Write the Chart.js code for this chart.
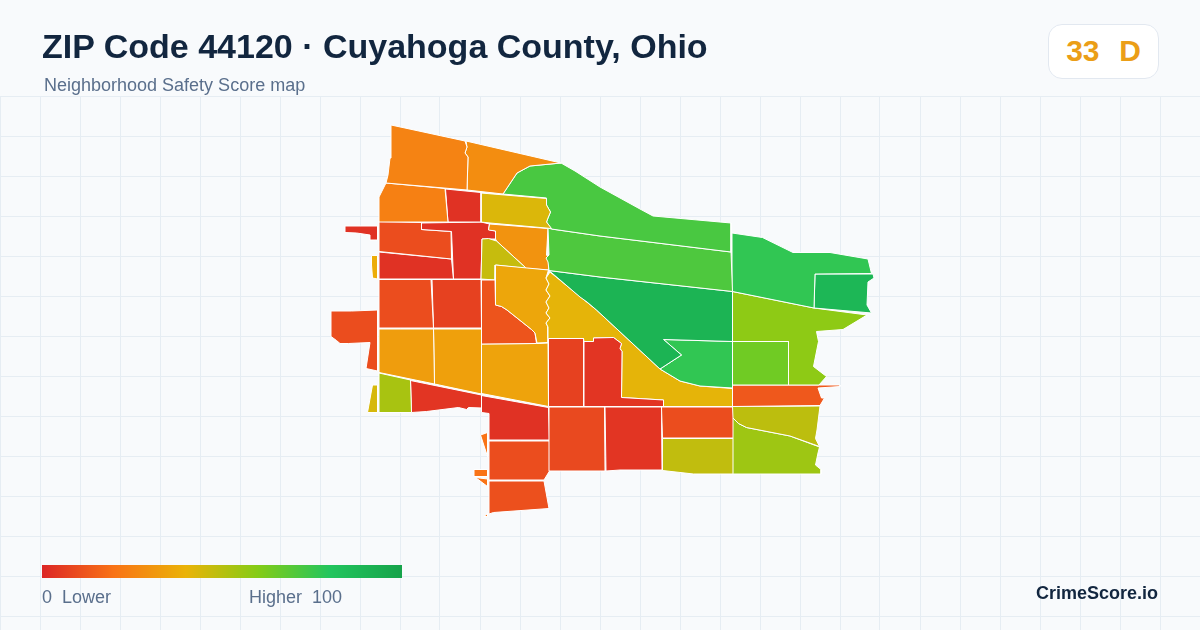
<!DOCTYPE html>
<html>
<head>
<meta charset="utf-8">
<title>ZIP Code 44120 Safety Score map</title>
<script src="https://cdn.jsdelivr.net/npm/chart.js@4/dist/chart.umd.js"></script>
<style>
  html, body { margin: 0; padding: 0; background: #f8fafc; }
  body { width: 1200px; height: 630px; position: relative; overflow: hidden; font-family: "Liberation Sans", Arial, sans-serif; }
  canvas { position: absolute; left: 0; top: 0; }
  .txt { position: absolute; white-space: pre; }
  #title { left: 42px; top: 26px; font-size: 34px; line-height: 40px; font-weight: 700; color: #12263f; }
  #subtitle { left: 44px; top: 75px; font-size: 18px; line-height: 20px; color: #5a6f8c; }
  #badge { position: absolute; left: 1048px; top: 24px; width: 109px; height: 53px; background: #fff; border: 1px solid #e2e8f0; border-radius: 14px; text-align: center; font-size: 30px; line-height: 51px; font-weight: 700; color: #eb9e17; white-space: pre; word-spacing: 1.5px; }
  #ramp { position: absolute; left: 42px; top: 565px; width: 360px; height: 13px; }
  #lower { left: 42px; top: 587px; font-size: 18px; line-height: 20px; color: #5a6f8c; }
  #higher { left: 249px; top: 587px; font-size: 18px; line-height: 20px; color: #5a6f8c; }
  #brand { right: 42px; top: 583px; font-size: 18px; line-height: 20px; font-weight: 700; color: #12263f; }
</style>
</head>
<body>
<canvas id="mapChart" width="1200" height="630"></canvas>
<div class="txt" id="title"></div>
<div class="txt" id="subtitle"></div>
<div id="badge"></div>
<div id="ramp"></div>
<div class="txt" id="lower"></div>
<div class="txt" id="higher"></div>
<div class="txt" id="brand"></div>

<script>
// TEXT
const titleText = 'ZIP Code 44120 · Cuyahoga County, Ohio';
const subtitleText = 'Neighborhood Safety Score map';
const overallScore = 33;
const overallGrade = 'D';
const lowerLabel = '0  Lower';
const higherLabel = 'Higher  100';
const brandText = 'CrimeScore.io';

// COLOUR RAMP, score 0 to 100
const rampStops = [0, 20, 40, 60, 80, 100];
const rampColors = ['#dc2626', '#f97316', '#eab308', '#84cc16', '#22c55e', '#16a34a'];

// TRACTS, safety score
const tractScores = [
  25, 28, 24, 3, 43,
  72, 71, 90, 77, 64,
  77, 88, 58, 13, 49,
  55, 48, 10, 4, 9,
  7, 4, 41, 36, 12,
  47, 30, 3, 10, 3,
  3, 38, 10, 7, 10,
  33, 34, 35, 53, 44,
  4, 3, 10, 11, 20,
  20, 20, 20
];

// tract outlines as x, y pairs in map units
const tractOutlines = [
  [391,125, 405,128, 465,141, 467,147, 465,153, 468,157, 467,190, 386,183, 388,175, 390,158],
  [466,141, 561,163, 530,166, 517,173, 503,194, 467,190, 468,157, 465,153, 467,147],
  [386,183, 445,188.5, 448,222, 379,222, 379,197],
  [445.5,189, 481,192.5, 481,222, 448,222],
  [481,193, 546.5,198.5, 546.5,205, 550.5,212, 548,218, 546.5,222, 551.5,228.5, 490,223, 481,222],
  [561,163, 575,171, 600,187, 640,209, 653,216, 731,223, 731,252, 600,236, 551.5,229, 546.5,222, 548,218, 550.5,212, 546.5,205, 546.5,198, 503,194, 517,173, 530,166],
  [551.5,229, 600,236, 731,252, 732.5,291.5, 600,277, 549,270.5, 548,262, 546,258, 549,255, 548,228],
  [549,270.5, 600,277, 732.5,291.5, 732.5,341.5, 663.5,339.5, 681.5,355, 660,369, 596.5,310, 587,302, 580,297],
  [663.5,339.5, 732.5,341.5, 732.5,388, 700,386, 680,381, 660,369, 681.5,355],
  [732.5,341.5, 788.5,341.5, 788.5,385, 732.5,385],
  [732,233, 762.5,237.5, 793,252.5, 810,252.5, 830,252.5, 868,259, 871.5,273.5, 815,274, 814,308, 732.5,291.5],
  [815,274, 873,274, 874,278, 868,282, 867,305, 871.5,313, 814,308],
  [732.5,291.5, 814,308, 867,315, 843,329.5, 816.5,331.5, 818.5,341.5, 813.5,366.5, 826.5,376.5, 819,385, 788.5,385, 788.5,341.5, 732.5,341.5],
  [732.5,385, 840,385, 840,386.5, 818,388, 821.5,398, 824.5,398, 820,405.5, 732.5,406.5],
  [732.5,406.5, 820,406, 817,430, 815.5,438.5, 819.5,446.5, 790,436, 746.5,427.5, 738.5,423.5, 733,418],
  [733,418, 738.5,423.5, 746.5,427.5, 790,436, 819.5,447, 818,453, 815.5,465, 821,469.5, 821,474, 733.5,474],
  [662.5,438.5, 733.5,438.5, 733.5,474, 693.5,474, 662.5,470.5],
  [661.5,407, 733.5,407, 733.5,438, 662.5,438],
  [605,407, 661.5,407, 662,470, 620,470, 606,471],
  [549,407, 604.5,407, 605,471, 549,471],
  [548.5,338.5, 583.5,338.5, 583.5,406.5, 548.5,406.5],
  [584,341.5, 593.5,341.5, 593.5,338, 613.5,337.5, 621.5,343.5, 620,348.5, 622,351.5, 621.5,397.5, 663.5,400, 663.5,406.5, 584,406.5],
  [550,272, 596.5,310, 660,369, 680,381, 700,386, 732.5,388.5, 732.5,406.5, 663.5,406.5, 663.5,400, 621.5,397.5, 622,351.5, 620,348.5, 621.5,343.5, 613.5,337.5, 593.5,338, 593.5,341.5, 584,341.5, 583.5,338.5, 548,338.5, 548,327, 546,323, 550,318, 546,313, 549,308, 546,302, 550,296, 546,290, 549,284, 546,278],
  [495.5,265, 548.5,270, 546,278, 549,284, 546,290, 550,296, 546,302, 549,308, 546,313, 550,318, 546,323, 548,327, 548,342.5, 537,343, 535,333, 531.5,329.5, 507,310, 501.5,306.5, 495.5,305],
  [481.5,280, 495,280, 495.5,305, 501.5,306.5, 507,310, 531.5,329.5, 535,333, 536.5,343.5, 481.5,344],
  [482,239, 488.5,238.5, 496.5,241, 526.5,268.5, 495.5,265, 495,280, 481,279],
  [489.5,224, 548,228.5, 546.5,255, 549,258, 548.5,270, 526.5,268.5, 496.5,241, 495.5,239, 495.5,231, 488.5,230],
  [421.5,223, 481,222, 489.5,224, 488.5,229.5, 495.5,231, 495.5,239, 482,239, 481,279, 453.5,279, 451.5,231.5, 421.5,229.5],
  [379,221.5, 421.5,222.5, 421.5,229.5, 451,231.5, 451.5,259, 379,251.5],
  [379,252, 451.5,259, 453.5,279, 379,279],
  [345,226, 377.5,226, 377.5,240, 370,240, 370,235, 356.5,233, 345,232.5],
  [371.5,255.5, 377.5,255.5, 377.5,279, 372.5,278, 371.5,265],
  [379,279.5, 431,279.5, 433.5,328, 379,328],
  [432,279.5, 481,279.5, 481.5,328, 433.5,328],
  [331,311, 351.5,311, 377.5,310, 377.5,371, 366,368.5, 370,342.5, 348.5,343.5, 340,343.5, 336.5,340.5, 331,336.5],
  [379,329, 433.5,329, 434.5,384, 379,372.5],
  [433.5,329, 481.5,329, 481.5,394, 434.5,384],
  [481.5,344, 536.5,343.5, 548,343, 548.5,406.5, 481.5,393.5],
  [379,373, 410.5,380, 411.5,412.5, 379,412.5],
  [372.5,385, 377.5,385, 377.5,412.5, 367.5,412.5],
  [410.5,380.5, 481.5,395, 481.5,408, 468.5,407.5, 466.5,409.5, 458.5,407.5, 426.5,411.5, 411.5,412.5],
  [481.5,395.5, 548.5,407.5, 549.5,440, 489,440, 489,413.5, 481.5,412.5],
  [489,441, 549.5,441, 549.5,471, 544,480, 489,480],
  [489,481, 544,481, 549,508.5, 493.5,512.5, 489,514],
  [480.5,435, 487.5,432.5, 487.5,456.5],
  [474,469.5, 487.5,469.5, 487.5,476.5, 474,476.5],
  [475.5,477.5, 487.5,479, 487.5,486.5],
  [484,516.5, 487.5,513.5, 487.5,516.5]
];

// grid rows start at the top of the plot, not at a round number
const gridRows = [96, 136, 176, 216, 256, 296, 336, 376, 416, 456, 496, 536, 576, 616];

function hexToRgb(hex) {
  return [1, 3, 5].map(i => parseInt(hex.slice(i, i + 2), 16));
}

function scoreColor(score) {
  let i = 0;
  while (i < rampStops.length - 2 && score > rampStops[i + 1]) i++;
  const t = (score - rampStops[i]) / (rampStops[i + 1] - rampStops[i]);
  const a = hexToRgb(rampColors[i]);
  const b = hexToRgb(rampColors[i + 1]);
  const c = a.map((v, k) => Math.round(v + (b[k] - v) * t));
  return `rgb(${c[0]}, ${c[1]}, ${c[2]})`;
}

function outlineToPoints(outline) {
  const points = [];
  for (let i = 0; i < outline.length; i += 2) {
    points.push({ x: outline[i], y: outline[i + 1] });
  }
  points.push(points[0]);
  return points;
}

const datasets = tractOutlines.map((outline, i) => ({
  label: `Tract ${i + 1}`,
  data: outlineToPoints(outline),
  showLine: true,
  fill: 'shape',
  tension: 0,
  pointRadius: 0,
  pointHoverRadius: 0,
  borderWidth: 1,
  borderColor: '#ffffff',
  backgroundColor: scoreColor(tractScores[i])
}));

new Chart(document.getElementById('mapChart').getContext('2d'), {
  type: 'scatter',
  data: { datasets },
  options: {
    responsive: false,
    animation: false,
    layout: { padding: { top: 96 } },
    plugins: { legend: { display: false }, tooltip: { enabled: false }, title: { display: false } },
    scales: {
      x: {
        type: 'linear', min: 0, max: 1200,
        border: { display: false },
        grid: { color: '#e6edf3', lineWidth: 1, drawTicks: false },
        ticks: { display: false, stepSize: 40, autoSkip: false }
      },
      y: {
        type: 'linear', min: 96, max: 630, reverse: true,
        afterBuildTicks: axis => { axis.ticks = gridRows.map(value => ({ value })); },
        border: { display: false },
        grid: { color: '#e6edf3', lineWidth: 1, drawTicks: false },
        ticks: { display: false, autoSkip: false }
      }
    }
  }
});

document.getElementById('title').textContent = titleText;
document.getElementById('subtitle').textContent = subtitleText;
document.getElementById('badge').textContent = `${overallScore}  ${overallGrade}`;
document.getElementById('lower').textContent = lowerLabel;
document.getElementById('higher').textContent = higherLabel;
document.getElementById('brand').textContent = brandText;
document.getElementById('ramp').style.background =
  `linear-gradient(90deg, ${rampColors.map((c, i) => `${c} ${rampStops[i]}%`).join(', ')})`;
</script>
</body>
</html>
